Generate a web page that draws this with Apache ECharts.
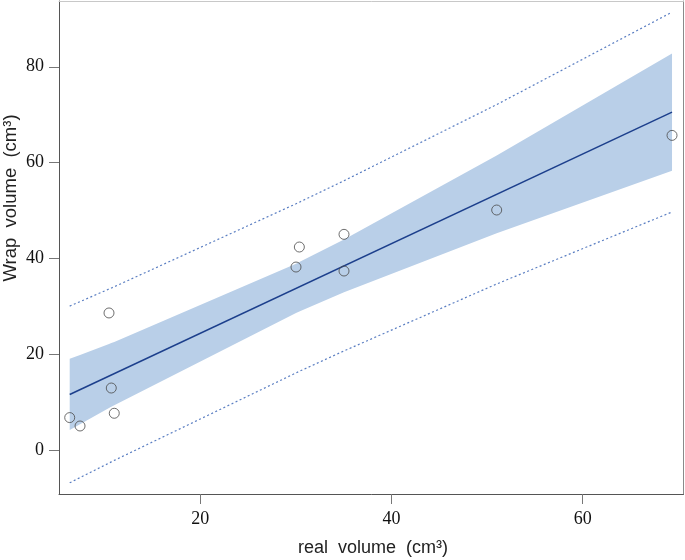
<!DOCTYPE html>
<html>
<head>
<meta charset="utf-8">
<script src="https://cdn.jsdelivr.net/npm/echarts@6/dist/echarts.min.js"></script>
<style>
  html, body { margin: 0; padding: 0; background: #fff; }
  #chart { width: 685px; height: 560px; }
</style>
</head>
<body>
<div id="chart"></div>
<script>
// observed points (real volume, wrap volume)
const realVol = [6.34, 7.42, 10.45, 10.69, 11.0, 30.01, 30.36, 35.03, 35.03, 51.0, 69.34];
const wrapVol = [6.9, 5.15, 28.7, 13.06, 7.8, 38.27, 42.44, 45.08, 37.44, 50.15, 65.7];

// band / interval vertices read at the x positions of the points
const bandX = [6.34, 7.42, 10.45, 10.69, 11.0, 30.01, 30.36, 35.03, 51.0, 69.34];
const ciUpper = [19.14, 19.95, 22.24, 22.42, 22.65, 38.97, 39.32, 44.02, 61.53, 82.78];
const ciLower = [4.30, 5.51, 8.88, 9.14, 9.49, 28.69, 29.0, 33.02, 45.33, 58.34];
const piUpper = [30.13, 31.06, 33.69, 33.89, 34.16, 51.45, 51.78, 56.25, 72.12, 91.38];
const piLower = [-6.69, -5.60, -2.57, -2.33, -2.02, 16.21, 16.54, 20.79, 34.74, 49.74];

// fitted line end points
const fitX = [6.34, 69.34];
const fitY = [11.72, 70.56];

const xTicks = [20, 40, 60];
const yTicks = [0, 20, 40, 60, 80];

const chart = echarts.init(document.getElementById('chart'));

const pairs = (xs, ys) => xs.map((x, i) => [x, ys[i]]);

const labelFont = { fontFamily: 'Liberation Serif', fontSize: 18, color: '#111' };
const tickStyle = { show: true, length: 10, lineStyle: { color: '#777', width: 1 } };

// confidence band drawn as one polygon: upper edge forward, lower edge back
function renderBand(params, api) {
    if (params.dataIndex !== 0) return null;
    const pts = [];
    for (let i = 0; i < bandX.length; i++) pts.push(api.coord([bandX[i], ciUpper[i]]));
    for (let i = bandX.length - 1; i >= 0; i--) pts.push(api.coord([bandX[i], ciLower[i]]));
    return {
        type: 'polygon',
        shape: { points: pts },
        style: { fill: '#b9cfe8' }
    };
}

const option = {
    animation: false,
    backgroundColor: '#fff',
    grid: { left: 59, top: 1, right: 1.5, bottom: 66, containLabel: false },
    xAxis: [
        {
            type: 'value',
            min: 5.22,
            max: 70.54,
            position: 'bottom',
            axisLine: { show: true, onZero: false, lineStyle: { color: '#555', width: 1 } },
            axisTick: Object.assign({ customValues: xTicks }, tickStyle),
            axisLabel: Object.assign({ customValues: xTicks, margin: 16 }, labelFont),
            splitLine: { show: false }
        },
        {
            type: 'value',
            min: 5.22,
            max: 70.54,
            position: 'top',
            axisLine: { show: true, onZero: false, lineStyle: { color: '#c8c8c8', width: 1 } },
            axisTick: { show: false },
            axisLabel: { show: false },
            splitLine: { show: false }
        }
    ],
    yAxis: [
        {
            type: 'value',
            min: -9.02,
            max: 93.7,
            position: 'left',
            axisLine: { show: true, onZero: false, lineStyle: { color: '#555', width: 1 } },
            axisTick: Object.assign({ customValues: yTicks }, tickStyle),
            axisLabel: Object.assign({ customValues: yTicks, margin: 15 }, labelFont),
            splitLine: { show: false }
        },
        {
            type: 'value',
            min: -9.02,
            max: 93.7,
            position: 'right',
            axisLine: { show: true, onZero: false, lineStyle: { color: '#8a8a8a', width: 1 } },
            axisTick: { show: false },
            axisLabel: { show: false },
            splitLine: { show: false }
        }
    ],
    graphic: [
        {
            type: 'text',
            x: 373,
            y: 539,
            style: {
                text: 'real  volume  (cm³)',
                font: '18px "Liberation Sans", Arial, sans-serif',
                fill: '#222',
                textAlign: 'center',
                textVerticalAlign: 'top'
            }
        },
        {
            type: 'text',
            x: 1,
            y: 198,
            rotation: Math.PI / 2,
            style: {
                text: 'Wrap  volume  (cm³)',
                font: '18.5px "Liberation Sans", Arial, sans-serif',
                fill: '#222',
                textAlign: 'center',
                textVerticalAlign: 'top'
            }
        }
    ],
    series: [
        {
            type: 'custom',
            renderItem: renderBand,
            data: pairs(bandX, ciUpper),
            encode: { x: 0, y: 1 },
            silent: true,
            z: 1
        },
        {
            type: 'line',
            data: pairs(bandX, piUpper),
            symbol: 'none',
            lineStyle: { color: '#5a7ec2', width: 1.2, type: [2, 2.5] },
            z: 2
        },
        {
            type: 'line',
            data: pairs(bandX, piLower),
            symbol: 'none',
            lineStyle: { color: '#5a7ec2', width: 1.2, type: [2, 2.5] },
            z: 2
        },
        {
            type: 'line',
            data: pairs(fitX, fitY),
            symbol: 'none',
            lineStyle: { color: '#1c3f8c', width: 1.5 },
            z: 3
        },
        {
            type: 'scatter',
            data: pairs(realVol, wrapVol),
            symbol: 'circle',
            symbolSize: 10,
            itemStyle: { color: 'rgba(0,0,0,0)', borderColor: '#4a4a4a', borderWidth: 1 },
            z: 4
        }
    ]
};

chart.setOption(option);
</script>
</body>
</html>
